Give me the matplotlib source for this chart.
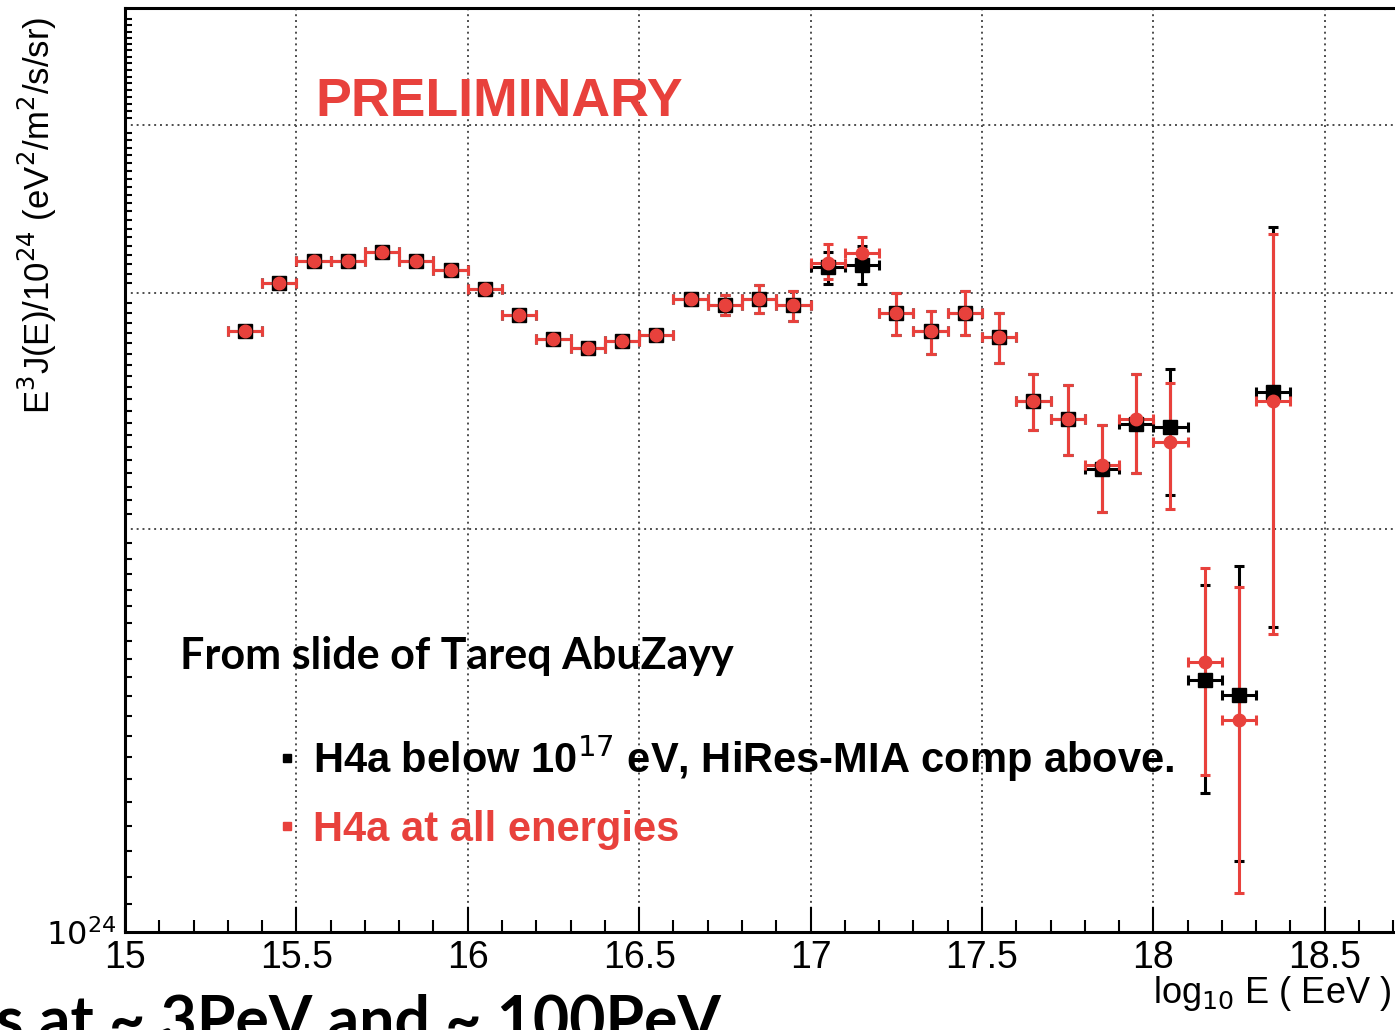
import matplotlib
matplotlib.use('Agg')
import matplotlib.pyplot as plt
import numpy as np
from matplotlib.ticker import FixedLocator, FuncFormatter, NullFormatter
from matplotlib.lines import Line2D

# log10(E) bin centres
log_e = [15.35, 15.45, 15.55, 15.65, 15.75, 15.85, 15.95, 16.05, 16.15, 16.25,
         16.35, 16.45, 16.55, 16.65, 16.75, 16.85, 16.95, 17.05, 17.15, 17.25,
         17.35, 17.45, 17.55, 17.65, 17.75, 17.85, 17.95, 18.05, 18.15, 18.25, 18.35]
bin_half = [0.05] * len(log_e)

# H4a at all energies (red), units of 1e24
red_y = [2.81, 3.05, 3.17, 3.17, 3.22, 3.17, 3.12, 3.02, 2.89, 2.77,
         2.73, 2.76, 2.79, 2.97, 2.94, 2.97, 2.94, 3.16, 3.21, 2.90,
         2.81, 2.90, 2.78, 2.49, 2.415, 2.23, 2.415, 2.32, 1.59, 1.44, 2.49]
red_lo = [2.79, 3.03, 3.15, 3.15, 3.20, 3.15, 3.10, 3.00, 2.87, 2.75,
          2.71, 2.74, 2.77, 2.94, 2.89, 2.90, 2.86, 3.07, 3.12, 2.79,
          2.70, 2.79, 2.66, 2.37, 2.27, 2.06, 2.20, 2.07, 1.31, 1.07, 1.67]
red_hi = [2.83, 3.07, 3.19, 3.19, 3.24, 3.19, 3.14, 3.04, 2.91, 2.79,
          2.75, 2.78, 2.81, 3.00, 2.99, 3.04, 3.01, 3.26, 3.30, 3.00,
          2.91, 3.01, 2.90, 2.61, 2.56, 2.39, 2.61, 2.57, 1.87, 1.81, 3.32]

# H4a below 1e17 eV, HiRes-MIA composition above (black)
blk_y = [2.81, 3.05, 3.17, 3.17, 3.22, 3.17, 3.12, 3.02, 2.89, 2.77,
         2.73, 2.76, 2.79, 2.97, 2.94, 2.97, 2.94, 3.135, 3.146, 2.90,
         2.81, 2.90, 2.78, 2.49, 2.415, 2.216, 2.394, 2.382, 1.542, 1.503, 2.529]
blk_lo = [2.79, 3.03, 3.15, 3.15, 3.20, 3.15, 3.10, 3.00, 2.87, 2.75,
          2.71, 2.74, 2.77, 2.94, 2.89, 2.90, 2.86, 3.045, 3.045, 2.79,
          2.70, 2.79, 2.66, 2.37, 2.27, 2.06, 2.20, 2.12, 1.27, 1.13, 1.69]
blk_hi = [2.83, 3.07, 3.19, 3.19, 3.24, 3.19, 3.14, 3.04, 2.91, 2.79,
          2.75, 2.78, 2.81, 3.00, 2.99, 3.04, 3.01, 3.22, 3.25, 3.00,
          2.91, 3.01, 2.90, 2.61, 2.56, 2.39, 2.61, 2.63, 1.815, 1.875, 3.36]

scale = 1e24
red = '#e8413c'

fig = plt.figure(figsize=(13.95, 10.3), dpi=100)
ax = fig.add_axes([0.0896, 0.0951, 0.9104, 0.8971])

def draw(y, lo, hi, color, marker, ms):
    y = np.array(y) * scale
    err = [y - np.array(lo) * scale, np.array(hi) * scale - y]
    ax.errorbar(log_e, y, xerr=bin_half, yerr=err, fmt=marker, color=color,
                ms=ms, mec=color, mfc=color, elinewidth=2.2, capsize=3.5,
                capthick=2.2, ecolor=color, zorder=3)

draw(blk_y, blk_lo, blk_hi, 'black', 's', 10.5)
draw(red_y, red_lo, red_hi, red, 'o', 9)

ax.set_yscale('log')
ax.set_xlim(15.0, 18.705)
ax.set_ylim(1.0 * scale, 4.894 * scale)

ax.xaxis.set_major_locator(FixedLocator([15, 15.5, 16, 16.5, 17, 17.5, 18, 18.5]))
ax.xaxis.set_minor_locator(FixedLocator(np.arange(15.0, 18.75, 0.1)))
ax.xaxis.set_major_formatter(FuncFormatter(lambda v, p: f'{v:g}'))
ax.yaxis.set_major_locator(FixedLocator([1e24, 2e24, 3e24, 4e24]))
ax.yaxis.set_major_formatter(FuncFormatter(lambda v, p: r'$10^{24}$' if abs(v - 1e24) < 1e20 else ''))
ax.yaxis.set_minor_locator(FixedLocator(np.arange(1.05, 4.85, 0.05) * scale))
ax.yaxis.set_minor_formatter(NullFormatter())

ax.tick_params(axis='both', which='both', direction='in', width=1.5, top=False, right=False)
ax.tick_params(axis='x', which='major', length=18, labelsize=27, pad=6)
ax.tick_params(axis='x', which='minor', length=9)
ax.tick_params(axis='y', which='major', length=0, labelsize=23, pad=6)
ax.tick_params(axis='y', which='minor', length=5)
for lab in ax.get_xticklabels() + ax.get_yticklabels():
    lab.set_family('Liberation Sans')

ax.grid(True, which='major', linestyle=(0, (1, 2)), color='0.3', linewidth=1.4)
for s in ['left', 'bottom', 'top']:
    ax.spines[s].set_linewidth(2.2)
ax.spines['right'].set_visible(False)

fig.text(0.027, 1 - 215 / 1030, r'E$^3$J(E)/10$^{24}$ (eV$^2$/m$^2$/s/sr)', rotation=90,
         ha='center', va='center', fontsize=25, family='Liberation Sans')
fig.text(0.997, 1 - 1003 / 1030, r'log$_{10}$ E ( EeV )', ha='right', va='baseline',
         fontsize=26, family='Liberation Sans')

fig.text(315 / 1395, 1 - 116 / 1030, 'PRELIMINARY', color=red, fontsize=38.6,
         fontweight='bold', family='Liberation Sans', va='baseline')
fig.text(180 / 1395, 1 - 669 / 1030, 'From slide of Tareq AbuZayy', color='black',
         fontsize=31, fontweight='bold', family='Lato', va='baseline')

handles = [Line2D([], [], ls='none', marker='s', color='black', ms=6),
           Line2D([], [], ls='none', marker='s', color=red, ms=6)]
labels = [r'H4a below 10$^{17}$ eV, HiRes-MIA comp above.', 'H4a at all energies']
ax.legend(handles, labels, loc='upper left', bbox_to_anchor=(278 / 1395, 1 - 733 / 1030),
          bbox_transform=fig.transFigure, frameon=False, borderpad=0, borderaxespad=0,
          handlelength=0.45, handletextpad=0.4, labelspacing=0.62,
          labelcolor=['black', red],
          prop={'family': 'Liberation Sans', 'weight': 'bold', 'size': 30})

fig.text(-0.003, -0.01, 's at ~ 3PeV and ~ 100PeV', color='black', fontsize=45,
         fontweight='bold', family='Lato', va='baseline', ha='left')

fig.savefig('out.png', dpi=100)
